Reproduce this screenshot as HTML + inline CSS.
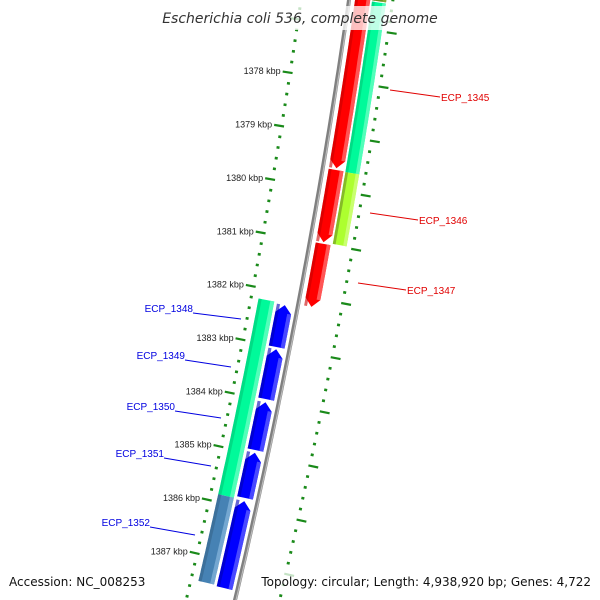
<!DOCTYPE html>
<html><head><meta charset="utf-8"><style>
html,body{margin:0;background:#fff;width:600px;height:600px;overflow:hidden}
svg{display:block;overflow:hidden}
</style></head><body>
<svg id="c" width="600" height="600" viewBox="0 0 600 600" xmlns="http://www.w3.org/2000/svg" font-family="'Liberation Sans', 'DejaVu Sans', sans-serif">
<g id="ticks"></g>
<g id="feats"></g>
<g id="labels"></g>
<rect x="163" y="6" width="274" height="24" fill="#fff" opacity="0.75"/>
<text x="300" y="23" text-anchor="middle" font-size="14" font-style="italic" font-family="'DejaVu Sans', sans-serif" fill="#333">Escherichia coli 536, complete genome</text>
<rect x="258" y="570" width="336" height="20" fill="#fff" opacity="0.75"/>
<text x="9" y="586" font-size="12" font-family="'DejaVu Sans', sans-serif" fill="#111">Accession: NC_008253</text>
<text x="591" y="586" text-anchor="end" font-size="12" font-family="'DejaVu Sans', sans-serif" fill="#111">Topology: circular; Length: 4,938,920 bp; Genes: 4,722</text>
</svg>
<script>
// data (kbp)
const tickKbp = [1376,1377,1378,1379,1380,1381,1382,1383,1384,1385,1386,1387,1388];
const tickLabels = ["1376 kbp","1377 kbp","1378 kbp","1379 kbp","1380 kbp","1381 kbp","1382 kbp","1383 kbp","1384 kbp","1385 kbp","1386 kbp","1387 kbp","1388 kbp"];
const outerStarts = [1375.5, 1379.63, 1381.0];
const outerEnds   = [1379.60, 1380.97, 1382.17];
const outer2Starts = [1375.9, 1376.48, 1379.64];
const outer2Ends   = [1376.46, 1379.64, 1380.97];
const outer2Kinds  = ["olive","teal","ygreen"];
const innerStarts = [1382.2, 1385.86];
const innerEnds   = [1385.86, 1387.48];
const innerKinds  = ["teal","steel"];
const blueStarts = [1382.23, 1383.05, 1384.04, 1384.98, 1385.88];
const blueEnds   = [1383.01, 1383.98, 1384.93, 1385.82, 1387.50];

const NS="http://www.w3.org/2000/svg";
function T(k){return 80+(k-1378)*53.8;}
function X(t){return 349-0.1433*t-7.78e-5*t*t;}
function D(t){return -0.1433-2*7.78e-5*t;}
function P(t,o){const d=D(t);const n=Math.sqrt(1+d*d);return [X(t)+o/n, t-o*d/n];}
function el(tag,attrs,parent){const e=document.createElementNS(NS,tag);for(const k in attrs)e.setAttribute(k,attrs[k]);parent.appendChild(e);return e;}
function band(t1,t2,o1,o2,arrow){
  const pts=[];const N=30;const om=(o1+o2)/2;const h=8;
  let a=t1,b=t2;
  if(arrow==='down')b=t2-h; if(arrow==='up')a=t1+h;
  for(let i=0;i<=N;i++){pts.push(P(a+(b-a)*i/N,o1));}
  if(arrow==='down')pts.push(P(t2,om));
  for(let i=N;i>=0;i--){pts.push(P(a+(b-a)*i/N,o2));}
  if(arrow==='up')pts.push(P(t1,om));
  return pts.map(p=>p[0].toFixed(1)+','+p[1].toFixed(1)).join(' ');
}
const tk=document.getElementById('ticks'),fg=document.getElementById('feats'),lg=document.getElementById('labels');
let bb=[];for(let t=-20;t<=610;t+=10){const p=P(t,0);bb.push(p[0].toFixed(1)+','+p[1].toFixed(1));}
let e=el('polyline',{points:bb.join(' '),fill:'none',stroke:'#808080','stroke-width':4},fg);


e=el('polyline',{points:bb.join(' '),fill:'none',stroke:'#bbb','stroke-width':1.2,transform:'translate(1,0)'},fg);


const lo=tickKbp[0],hi=tickKbp[tickKbp.length-1];
for(let k=lo*5;k<=hi*5;k++){
  const kb=k/5,t=T(kb);if(t<-20||t>610)continue;
  const major=(k%5===0);
  for(const side of [-1,1]){
    const a=major?(side<0?-55:42):(side<0?-49:42), b=major?(side<0?-45:52):(side<0?-46:45);
    const p1=P(t,a),p2=P(t,b);
    const ln=el('line',{x1:p1[0],y1:p1[1],x2:p2[0],y2:p2[1],stroke:'#1a8a1a','stroke-width':major?2.2:2.6},tk);
    
    
  }
}
tickKbp.forEach((kb,i)=>{const t=T(kb);const p=P(t,-57);if(p[1]<40||p[1]>570)return;
  const tx=el('text',{x:p[0].toFixed(1),y:(p[1]+3).toFixed(1),'text-anchor':'end','font-size':9,fill:'#222'},tk);
  tx.textContent=tickLabels[i];
  
  
});
const colors={teal:['#00fa9a','#66ffc2','#00c878'],steel:['#4682b4','#7fb0d8','#36648b'],olive:['#6b8e23','#8fb03a','#55701a'],ygreen:['#adff2f','#d0ff80','#6b8e23'],red:['#ff0000','#ff6a6a','#c80000'],blue:['#0000ff','#5a5aff','#0000b4']};
function draw(t1,t2,o1,o2,kind,arrow,name){
  const c=colors[kind];
  let p=el('polygon',{points:band(t1,t2,o1,o2,arrow),fill:c[0]},fg);
  
  
  const w=o2-o1;
  let q=el('polygon',{points:band(t1,t2,o1,o1+w*0.2,null),fill:c[2],opacity:0.6},fg);
  
  
  q=el('polygon',{points:band(arrow==='up'?t1+8:t1,arrow==='down'?t2-8:t2,o2-w*0.25,o2,null),fill:c[1],opacity:0.8},fg);
  
  
}
outer2Starts.forEach((s,i)=>draw(T(s),T(outer2Ends[i]),23,37,outer2Kinds[i],null,'outer-gene-'+i));
outerStarts.forEach((s,i)=>draw(T(s),T(outerEnds[i]),6,21,'red','down','reverse-gene-'+i));
innerStarts.forEach((s,i)=>draw(T(s),T(innerEnds[i]),-40,-24,innerKinds[i],null,'inner-gene-'+i));
blueStarts.forEach((s,i)=>draw(T(s),T(blueEnds[i]),-21,-5,'blue','up','blue-gene-'+i));
const labs=[["ECP_1345",390,90,440,97,"#e00000","start"],["ECP_1346",370,213,418,220,"#e00000","start"],["ECP_1347",358,283,406,290,"#e00000","start"],
["ECP_1348",241,319,193,313,"#0000e0","end"],["ECP_1349",231,367,185,360,"#0000e0","end"],["ECP_1350",221,418,175,411,"#0000e0","end"],["ECP_1351",211,466,164,458,"#0000e0","end"],["ECP_1352",195,535,150,527,"#0000e0","end"]];
labs.forEach(l=>{
  let ln=el('line',{x1:l[1],y1:l[2],x2:l[3],y2:l[4],stroke:l[5],'stroke-width':1},lg);
  
  
  const tx=el('text',{x:l[6]==='start'?l[3]+1:l[3],y:l[6]==='start'?l[4]+4:l[4]-1,'text-anchor':l[6],'font-size':10,fill:l[5]},lg);
  tx.textContent=l[0];
  
  
});
</script>
</body></html>
